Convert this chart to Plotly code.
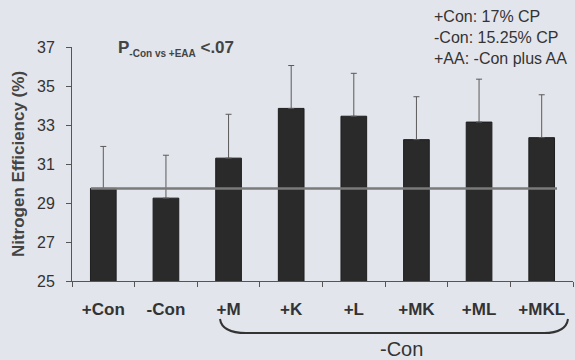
import plotly.graph_objects as go

categories = ["+Con", "-Con", "+M", "+K", "+L", "+MK", "+ML", "+MKL"]
values = [29.75, 29.25, 31.3, 33.85, 33.45, 32.25, 33.15, 32.35]
errors = [2.15, 2.2, 2.25, 2.2, 2.2, 2.2, 2.2, 2.2]
ref_value = 29.75
y_ticks = [25, 27, 29, 31, 33, 35, 37]

BG = "#e3e5ec"
FONT = "Arial, Liberation Sans, sans-serif"

# pixel -> paper helpers (plot area: x 72..573, y 47..281)
L, R, T, B = 72, 573, 47, 281
def px(x):
    return (x - L) / (R - L)
def py(y):
    return (B - y) / (B - T)

fig = go.Figure()
fig.add_trace(go.Bar(
    x=categories, y=values,
    marker=dict(color="#2a2a2a", line=dict(color="#1e1e1e", width=1)),
    error_y=dict(type="data", array=errors, arrayminus=[0]*len(errors), symmetric=False,
                 color="#5a5a5a", thickness=1, width=3),
    width=0.41,
    base=0,
))
# horizontal reference line
fig.add_shape(type="line", xref="paper", yref="y", x0=px(91), x1=px(557),
              y0=ref_value, y1=ref_value, line=dict(color="#7a7a7a", width=2.5))

# brace under the -Con group
path = ("M {a},{b} Q {c},{d} {e},{d} L {f},{d} Q {g},{d} {h},{b}").format(
    a=px(220), b=py(319), c=px(222), d=py(333), e=px(246), f=px(544), g=px(566), h=px(568))
fig.add_shape(type="path", xref="paper", yref="paper", path=path,
              line=dict(color="#333333", width=2))

annotations = [
    dict(text="-Con", x=px(401), y=py(349), xref="paper", yref="paper", showarrow=False,
         font=dict(size=20, color="#333333", family=FONT), xanchor="center", yanchor="middle"),
    dict(text="<b>P<sub><span style='font-size:10px'>-Con vs +EAA</span></sub> <.07</b>",
         x=px(116), y=py(48), xref="paper", yref="paper",
         showarrow=False, font=dict(size=17, color="#444444", family=FONT),
         xanchor="left", yanchor="middle"),
    dict(text="+Con: 17% CP<br>-Con: 15.25% CP<br>+AA: -Con plus AA", x=px(432), y=py(6),
         xref="paper", yref="paper", showarrow=False, align="left",
         font=dict(size=16, color="#333333", family=FONT), xanchor="left", yanchor="top"),
]

fig.update_layout(
    width=575, height=360,
    margin=dict(l=L, r=575 - R, t=T, b=360 - B),
    paper_bgcolor=BG, plot_bgcolor=BG,
    showlegend=False,
    font=dict(family=FONT, color="#333333"),
    annotations=annotations,
)
fig.update_xaxes(
    type="category", showline=True, linecolor="#555555", linewidth=1,
    ticks="outside", tickson="boundaries", ticklen=5, tickcolor="#555555",
    tickfont=dict(size=17, color="#333333", family=FONT), ticklabelstandoff=13,
    tickprefix="<b>", ticksuffix="</b>", showgrid=False, zeroline=False,
)
fig.update_yaxes(
    range=[25, 37], tickvals=y_ticks, showline=True, linecolor="#555555", linewidth=1,
    ticks="outside", ticklen=5, tickcolor="#555555", showgrid=False, zeroline=False,
    tickfont=dict(size=16, color="#333333", family=FONT), tickprefix="<b>", ticksuffix="</b>",
    ticklabelstandoff=8,
    title=dict(text="<b>Nitrogen Efficiency (%)</b>", font=dict(size=17, color="#444444", family=FONT),
               standoff=8),
)
fig.write_html("out.html", config={"displayModeBar": False},
               post_script="document.body.style.margin='0';document.body.style.padding='0';")
